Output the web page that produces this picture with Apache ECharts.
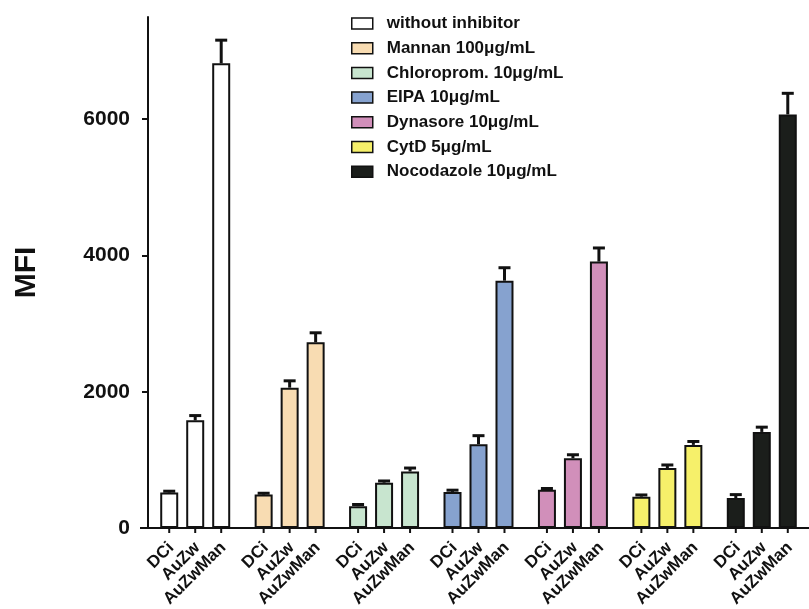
<!DOCTYPE html>
<html>
<head>
<meta charset="utf-8">
<script src="https://cdn.jsdelivr.net/npm/echarts@6/dist/echarts.min.js"></script>
<style>html,body{margin:0;padding:0;background:#fff}#c{width:809px;height:609px}</style>
</head>
<body>
<div id="c"></div>
<script>
// ---- data ----
const groups = ['without inhibitor', 'Mannan 100μg/mL', 'Chloroprom. 10μg/mL', 'EIPA 10μg/mL', 'Dynasore 10μg/mL', 'CytD 5μg/mL', 'Nocodazole 10μg/mL'];
const cells = ['DCi', 'AuZw', 'AuZwMan'];
const dciValues = [520, 490, 320, 530, 560, 460, 440];
const auzwValues = [1580, 2060, 665, 1230, 1025, 880, 1410];
const auzwmanValues = [6820, 2725, 830, 3630, 3910, 1220, 6070];
const dciErr = [20, 20, 25, 25, 20, 25, 50];
const auzwErr = [70, 100, 25, 125, 50, 45, 70];
const auzwmanErr = [340, 140, 50, 190, 200, 50, 310];
const yTicks = [0, 2000, 4000, 6000];

// ---- style ----
const groupColors = ['#ffffff', '#f8dcb2', '#c8e5cf', '#86a2cf', '#d18fba', '#f6f06a', '#1b1e1b'];
const FONT = '"Liberation Sans", Arial, sans-serif';
const INK = '#111111';
const BAR_W = 18;
const BAR_GAP = 0.444;
const SPACING = BAR_W * (1 + BAR_GAP);

const values = [dciValues, auzwValues, auzwmanValues];
const errs = [dciErr, auzwErr, auzwmanErr];

const barSeries = cells.map((name, ci) => ({
  name: name,
  type: 'bar',
  xAxisIndex: 0,
  barWidth: BAR_W,
  barGap: (BAR_GAP * 100) + '%',
  itemStyle: { borderColor: INK, borderWidth: 2 },
  data: values[ci].map((v, gi) => ({ value: v, itemStyle: { color: groupColors[gi] } })),
  z: 2
}));

const errData = [];
for (let ci = 0; ci < cells.length; ci++) {
  for (let gi = 0; gi < groups.length; gi++) {
    errData.push([gi, values[ci][gi], errs[ci][gi], ci]);
  }
}

const errSeries = {
  type: 'custom',
  xAxisIndex: 0,
  z: 5,
  silent: true,
  data: errData,
  renderItem: function (params, api) {
    const gi = api.value(0), v = api.value(1), e = api.value(2), ci = api.value(3);
    const base = api.coord([gi, 0]);
    const cx = base[0] + (ci - 1) * SPACING;
    const top = api.coord([gi, v])[1];
    const capY = api.coord([gi, v + e])[1];
    const children = [
      { type: 'line', shape: { x1: cx, y1: top, x2: cx, y2: capY }, style: { stroke: INK, lineWidth: 3 } },
      { type: 'line', shape: { x1: cx - 6, y1: capY, x2: cx + 6, y2: capY }, style: { stroke: INK, lineWidth: 3 } },
      { type: 'line', shape: { x1: cx, y1: base[1], x2: cx, y2: base[1] + 5 }, style: { stroke: INK, lineWidth: 2 } },
      {
        type: 'text', x: cx + 2, y: base[1] + 17, rotation: Math.PI / 4,
        style: { text: cells[ci], x: 0, y: 0, align: 'right', verticalAlign: 'middle', textAlign: 'right', textVerticalAlign: 'middle', font: 'bold 17px ' + FONT, fill: INK }
      }
    ];
    if (gi === 0 && ci === 0) {
      const bandStart = base[0] - api.size([1, 0])[0] / 2;
      children.push({ type: 'line', shape: { x1: bandStart - 8, y1: base[1], x2: bandStart, y2: base[1] }, style: { stroke: INK, lineWidth: 2 } });
    }
    return { type: 'group', children: children };
  }
};

const legendSeries = groups.map((g, gi) => ({
  name: g,
  type: 'bar',
  xAxisIndex: 1,
  data: [],
  itemStyle: { color: groupColors[gi], borderColor: INK, borderWidth: 1.5 }
}));

const chart = echarts.init(document.getElementById('c'), null, { renderer: 'canvas' });
chart.setOption({
  animation: false,
  backgroundColor: '#ffffff',
  grid: { left: 148, right: -11, top: 17, bottom: 81 },
  legend: {
    data: groups,
    orient: 'vertical',
    left: 346,
    top: 10,
    itemWidth: 21,
    itemHeight: 11,
    itemGap: 7.7,
    icon: 'rect',
    itemStyle: { borderColor: INK, borderWidth: 1.5 },
    textStyle: { fontFamily: FONT, fontWeight: 'bold', fontSize: 17, color: INK, padding: [0, 0, 0, 9] }
  },
  xAxis: [
    {
      type: 'category',
      data: groups,
      axisLine: { show: true, lineStyle: { color: INK, width: 2 } },
      axisTick: { show: false },
      axisLabel: { show: false }
    },
    { type: 'category', data: groups, show: false }
  ],
  yAxis: {
    type: 'value',
    min: 0,
    max: 7500,
    interval: 2000,
    name: 'MFI',
    nameLocation: 'middle',
    nameRotate: 90,
    nameGap: 106,
    nameTextStyle: { fontFamily: FONT, fontWeight: 'bold', fontSize: 30, color: INK },
    axisLine: { show: true, lineStyle: { color: INK, width: 2 } },
    axisTick: { show: true, length: 6, lineStyle: { color: INK, width: 2 }, customValues: yTicks },
    axisLabel: { fontFamily: FONT, fontWeight: 'bold', fontSize: 21, color: INK, margin: 18, customValues: yTicks, formatter: v => String(v) },
    splitLine: { show: false }
  },
  series: barSeries.concat([errSeries]).concat(legendSeries)
});
</script>
</body>
</html>
